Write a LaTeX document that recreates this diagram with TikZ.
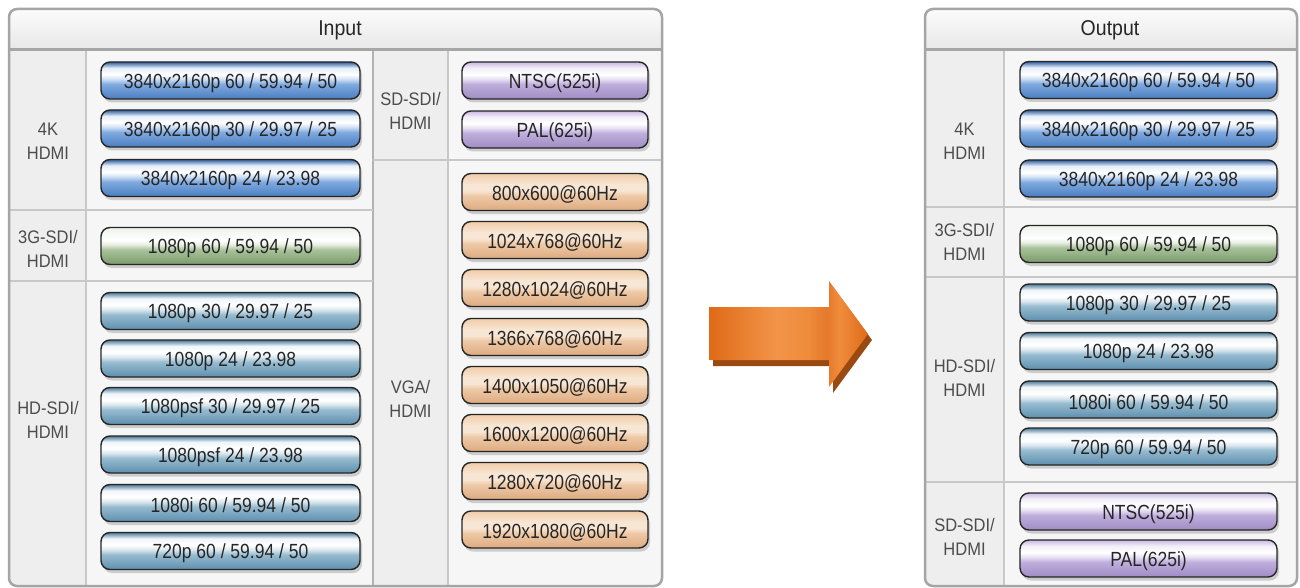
\documentclass[tikz,border=0pt]{standalone}
\usepackage{fontspec}
\setmainfont{Liberation Sans}
\usetikzlibrary{shadows}
\definecolor{b1}{HTML}{4A7DC0}\definecolor{b2}{HTML}{7FAAE0}\definecolor{b3}{HTML}{D0E0F4}\definecolor{b4}{HTML}{2F5E9E}
\definecolor{s1}{HTML}{5E8FAE}\definecolor{s2}{HTML}{96BBD0}\definecolor{s3}{HTML}{DCE8EF}\definecolor{s4}{HTML}{4A7A98}
\definecolor{g1}{HTML}{7C9B6C}\definecolor{g2}{HTML}{A8C29A}\definecolor{g3}{HTML}{E8EFE2}\definecolor{g4}{HTML}{EEF2EA}
\definecolor{p1}{HTML}{A08CC4}\definecolor{p2}{HTML}{BEADDC}\definecolor{p3}{HTML}{E8E0F3}\definecolor{p4}{HTML}{C9B9E2}
\definecolor{o1}{HTML}{DDAA80}\definecolor{o2}{HTML}{EEC9A6}\definecolor{o3}{HTML}{F8E6D4}\definecolor{o4}{HTML}{F0CCA8}
\definecolor{ao1}{HTML}{DF6A18}\definecolor{ao2}{HTML}{F29448}\definecolor{ao3}{HTML}{E6782A}\definecolor{ao4}{HTML}{EF8C3C}
\definecolor{ashadow}{HTML}{9A4A10}
\definecolor{panelline}{HTML}{A5A5A5}\definecolor{cellline}{HTML}{C8C8C8}
\definecolor{labelbg}{HTML}{EEEEEE}\definecolor{cellbg}{HTML}{F6F6F6}
\definecolor{hdtop}{HTML}{FBFBFB}\definecolor{hdbot}{HTML}{E8E8E8}
\pgfdeclareverticalshading{gblue}{100bp}{color(0bp)=(b1); color(25bp)=(b1); color(45bp)=(b2); color(52bp)=(b3); color(58bp)=(white); color(67bp)=(white!80!b2); color(75bp)=(b4); color(100bp)=(b4)}
\pgfdeclareverticalshading{gsteel}{100bp}{color(0bp)=(s1); color(25bp)=(s1); color(45bp)=(s2); color(52bp)=(s3); color(58bp)=(white); color(67bp)=(white!85!s2); color(75bp)=(s4); color(100bp)=(s4)}
\pgfdeclareverticalshading{ggreen}{100bp}{color(0bp)=(g1); color(25bp)=(g1); color(45bp)=(g2); color(52bp)=(g3); color(58bp)=(white); color(75bp)=(g4); color(100bp)=(g4)}
\pgfdeclareverticalshading{gpurple}{100bp}{color(0bp)=(p1); color(25bp)=(p1); color(45bp)=(p2); color(52bp)=(p3); color(58bp)=(white); color(67bp)=(white!80!p2); color(75bp)=(p4); color(100bp)=(p4)}
\pgfdeclareverticalshading{gorange}{100bp}{color(0bp)=(o1); color(25bp)=(o1); color(45bp)=(o2); color(52bp)=(o3); color(60bp)=(o3); color(75bp)=(o4); color(100bp)=(o4)}
\pgfdeclarehorizontalshading{arrowsh}{100bp}{color(0bp)=(ao1); color(25bp)=(ao1); color(46bp)=(ao2); color(56bp)=(ao4); color(62bp)=(ao3); color(66bp)=(ao4); color(75bp)=(ao1); color(100bp)=(ao1)}
\tikzset{
  btn/.style={draw=black!85, line width=1.4pt, rounded corners=9pt, minimum height=37pt, inner sep=0pt,
    shade, font=\fontsize{17.5}{20}\selectfont, text=black!85,
    drop shadow={shadow xshift=2pt, shadow yshift=-3.5pt, opacity=0.35}},
  grp/.style={align=center, font=\fontsize{16.5}{24}\selectfont, text=black!70, inner sep=0pt},
  title/.style={font=\fontsize{19.5}{22}\selectfont, text=black!85, inner sep=0pt},
  cline/.style={draw=cellline, line width=1.5pt},
  pborder/.style={draw=panelline, line width=2.5pt, rounded corners=8pt}
}
\newcommand{\btnode}[6]{\node[btn, minimum width=#4pt, shading=#5] (#1) at (#2,#3) {\raisebox{-2.5pt}[\height][\depth]{\scalebox{1}[1.17]{#6}}};}
\newcommand{\grptext}[2]{\scalebox{1}[1.1]{#1}\\\scalebox{1}[1.1]{#2}}
\begin{document}
\begin{tikzpicture}[x=1pt,y=-1pt]
\useasboundingbox (0,0) rectangle (1300,588);
\fill[white] (0,0) rectangle (1300,588);
% ---------- Input panel ----------
\begin{scope}
  \clip[rounded corners=8pt] (9,9) rectangle (662,586);
  \fill[cellbg] (9,9) rectangle (662,586);
  \shade[top color=hdtop, bottom color=hdbot] (9,9) rectangle (662,50);
  \fill[labelbg] (9,50) rectangle (86,586);
  \fill[labelbg] (373,50) rectangle (448,586);
\end{scope}
\draw[cline] (86,50) -- (86,586);
\draw[cline] (448,50) -- (448,586);
\draw[draw=black!30, line width=2.5pt] (373,50) -- (373,586);
\draw[cline] (9,210) -- (373,210);
\draw[cline] (9,281) -- (373,281);
\draw[cline] (373,160) -- (662,160);
\draw[draw=black!35, line width=3pt] (9,50) -- (662,50);
\draw[pborder] (9,9) rectangle (662,586);
\node[title] (tin) at (340,30) {\scalebox{1}[1.1]{Input}};
\node[grp] (i4k) at (48,141) {\grptext{4K}{HDMI}};
\node[grp] (i3g) at (48,249) {\grptext{3G-SDI/}{HDMI}};
\node[grp] (ihd) at (48,420) {\grptext{HD-SDI/}{HDMI}};
\node[grp] (isd) at (410.5,111) {\grptext{SD-SDI/}{HDMI}};
\node[grp] (ivga) at (410.5,399) {\grptext{VGA/}{HDMI}};
\btnode{ia1}{230.5}{80.5}{259}{gblue}{3840x2160p 60 / 59.94 / 50}
\btnode{ia2}{230.5}{128.5}{259}{gblue}{3840x2160p 30 / 29.97 / 25}
\btnode{ia3}{230.5}{178}{259}{gblue}{3840x2160p 24 / 23.98}
\btnode{ib1}{230.5}{246}{259}{ggreen}{1080p 60 / 59.94 / 50}
\btnode{ic1}{230.5}{311}{259}{gsteel}{1080p 30 / 29.97 / 25}
\btnode{ic2}{230.5}{358.5}{259}{gsteel}{1080p 24 / 23.98}
\btnode{ic3}{230.5}{406}{259}{gsteel}{1080psf 30 / 29.97 / 25}
\btnode{ic4}{230.5}{454.5}{259}{gsteel}{1080psf 24 / 23.98}
\btnode{ic5}{230.5}{503}{259}{gsteel}{1080i 60 / 59.94 / 50}
\btnode{ic6}{230.5}{551}{259}{gsteel}{720p 60 / 59.94 / 50}
\btnode{id1}{555}{80.5}{186}{gpurple}{NTSC(525i)}
\btnode{id2}{555}{129.5}{186}{gpurple}{PAL(625i)}
\btnode{iv1}{555}{192}{186}{gorange}{800x600@60Hz}
\btnode{iv2}{555}{240}{186}{gorange}{1024x768@60Hz}
\btnode{iv3}{555}{288}{186}{gorange}{1280x1024@60Hz}
\btnode{iv4}{555}{337}{186}{gorange}{1366x768@60Hz}
\btnode{iv5}{555}{385}{186}{gorange}{1400x1050@60Hz}
\btnode{iv6}{555}{433}{186}{gorange}{1600x1200@60Hz}
\btnode{iv7}{555}{481}{186}{gorange}{1280x720@60Hz}
\btnode{iv8}{555}{529.5}{186}{gorange}{1920x1080@60Hz}
% ---------- Arrow ----------
\fill[ashadow] (713,313) -- (833,313) -- (833,287) -- (872,340) -- (833,393) -- (833,366) -- (713,366) -- cycle;
\shade[shading=arrowsh] (709,307) -- (829,307) -- (829,281) -- (868,334) -- (829,387) -- (829,360) -- (709,360) -- cycle;
% ---------- Output panel ----------
\begin{scope}
  \clip[rounded corners=8pt] (925,9) rectangle (1297,586);
  \fill[cellbg] (925,9) rectangle (1297,586);
  \shade[top color=hdtop, bottom color=hdbot] (925,9) rectangle (1297,50);
  \fill[labelbg] (925,50) rectangle (1004,586);
\end{scope}
\draw[cline] (1004,50) -- (1004,586);
\draw[cline] (925,207) -- (1297,207);
\draw[cline] (925,277) -- (1297,277);
\draw[cline] (925,482) -- (1297,482);
\draw[draw=black!35, line width=3pt] (925,50) -- (1297,50);
\draw[pborder] (925,9) rectangle (1297,586);
\node[title] (tout) at (1110,30) {\scalebox{1}[1.1]{Output}};
\node[grp] (o4k) at (964.5,141.5) {\grptext{4K}{HDMI}};
\node[grp] (o3g) at (964.5,242) {\grptext{3G-SDI/}{HDMI}};
\node[grp] (ohd) at (964.5,378) {\grptext{HD-SDI/}{HDMI}};
\node[grp] (osd) at (964.5,537) {\grptext{SD-SDI/}{HDMI}};
\btnode{oa1}{1148.5}{80}{257}{gblue}{3840x2160p 60 / 59.94 / 50}
\btnode{oa2}{1148.5}{128.5}{257}{gblue}{3840x2160p 30 / 29.97 / 25}
\btnode{oa3}{1148.5}{178.5}{257}{gblue}{3840x2160p 24 / 23.98}
\btnode{ob1}{1148.5}{244}{257}{ggreen}{1080p 60 / 59.94 / 50}
\btnode{oc1}{1148.5}{302.5}{257}{gsteel}{1080p 30 / 29.97 / 25}
\btnode{oc2}{1148.5}{351}{257}{gsteel}{1080p 24 / 23.98}
\btnode{oc3}{1148.5}{399.5}{257}{gsteel}{1080i 60 / 59.94 / 50}
\btnode{oc4}{1148.5}{446.5}{257}{gsteel}{720p 60 / 59.94 / 50}
\btnode{od1}{1148.5}{511.5}{257}{gpurple}{NTSC(525i)}
\btnode{od2}{1148.5}{558.5}{257}{gpurple}{PAL(625i)}
\end{tikzpicture}
\end{document}
